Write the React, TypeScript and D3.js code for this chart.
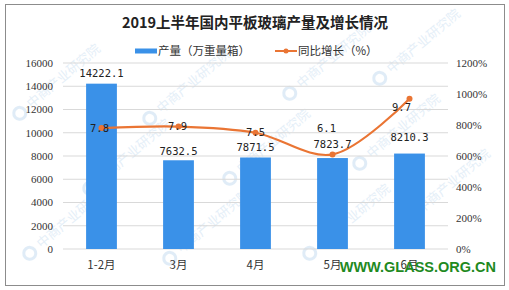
import React from "react";
import * as d3 from "d3";

const categories = ["1-2月", "3月", "4月", "5月", "6月"];
const production = [14222.1, 7632.5, 7871.5, 7823.7, 8210.3];
const growth = [7.8, 7.9, 7.5, 6.1, 9.7];
const leftTicks = [0, 2000, 4000, 6000, 8000, 10000, 12000, 14000, 16000];
const rightTicks = [0, 200, 400, 600, 800, 1000, 1200];

// label offsets (layout, not data)
const barLabelDy = [-7, -5, -6, -10, -13];
const lineLabelDx = [-2, -1, 0, -6, -8];
const lineLabelDy = [0, 0, 0, -26, 9];

const W = 509, H = 290;
const M = { left: 63, right: 448, top: 63, bottom: 249 };
const BLUE = "#3a91e8";
const ORANGE = "#ea7534";
const CJK = "'Noto Sans CJK SC', 'Noto Sans', sans-serif";

const watermarks = [
  [30, 110], [160, 115], [300, 90], [390, 75], [40, 250], [180, 255], [320, 250], [420, 215],
  [240, 175], [100, 185], [370, 160],
];

export default function App() {
  const x = d3.scaleBand().domain(categories).range([M.left, M.right]).paddingInner(0.6).paddingOuter(0.3);
  const yL = d3.scaleLinear().domain([0, 16000]).range([M.bottom, M.top]);
  const yR = d3.scaleLinear().domain([0, 1200]).range([M.bottom, M.top]);
  const cx = (c: string) => (x(c) as number) + x.bandwidth() / 2;
  const pts: [number, number][] = categories.map((c, i) => [cx(c), yR(growth[i] * 100)]);
  const line = d3.line().curve(d3.curveCatmullRom.alpha(0.5))(pts) as string;

  return (
    <svg width={W} height={H} style={{ position: "absolute", left: 0, top: 0, background: "#fff" }}>
      <defs>
        <clipPath id="frame"><rect x={6} y={5} width={498} height={280} /></clipPath>
      </defs>
      <rect x={5.5} y={4.5} width={499} height={281} fill="#fff" stroke="#8c8c8c" strokeWidth={1} />
      <g clipPath="url(#frame)">
        {watermarks.map(([wx, wy], i) => (
          <g key={"w" + i} transform={`translate(${wx},${wy}) rotate(-40)`} opacity={0.3}>
            <circle cx={-10} cy={-4} r={6} fill="none" stroke="#9cc3e6" strokeWidth={3} />
            <text x={2} y={0} fontFamily={CJK} fontSize={13} fill="#a9cbe9">中商产业研究院</text>
          </g>
        ))}
      </g>
      {leftTicks.map((t) => (
        <line key={"g" + t} x1={M.left} x2={M.right} y1={yL(t)} y2={yL(t)} stroke="#d9d9d9" strokeWidth={1} />
      ))}
      {categories.map((c, i) => (
        <rect key={"b" + i} x={x(c)} y={yL(production[i])} width={x.bandwidth()} height={M.bottom - yL(production[i])} fill={BLUE} />
      ))}
      <path d={line} fill="none" stroke={ORANGE} strokeWidth={2.2} />
      {pts.map(([px, py], i) => (
        <circle key={"p" + i} cx={px} cy={py} r={3} fill={ORANGE} />
      ))}
      {categories.map((c, i) => (
        <text key={"bl" + i} x={cx(c)} y={yL(production[i]) + barLabelDy[i]} textAnchor="middle" fontFamily="'DejaVu Sans Mono', monospace" fontSize={10.5} fill="#222">
          {production[i].toFixed(1)}
        </text>
      ))}
      {categories.map((c, i) => (
        <text key={"ll" + i} x={cx(c) + lineLabelDx[i]} y={yR(growth[i] * 100) + lineLabelDy[i]} dy="0.35em" textAnchor="middle" fontFamily="'DejaVu Sans Mono', monospace" fontSize={10.5} fill="#222">
          {growth[i].toFixed(1)}
        </text>
      ))}
      {leftTicks.map((t) => (
        <text key={"lt" + t} x={53} y={yL(t)} dy="0.35em" textAnchor="end" fontFamily="'Liberation Serif', serif" fontSize={11} fill="#333">
          {t}
        </text>
      ))}
      {rightTicks.map((t) => (
        <text key={"rt" + t} x={456} y={yR(t)} dy="0.35em" textAnchor="start" fontFamily="'Liberation Serif', serif" fontSize={11} fill="#333">
          {t + "%"}
        </text>
      ))}
      {categories.map((c) => (
        <text key={"c" + c} x={cx(c)} y={265} dy="0.35em" textAnchor="middle" fontFamily={CJK} fontSize={11.5} fill="#333">
          {c}
        </text>
      ))}
      <text x={255} y={23} dy="0.35em" textAnchor="middle" fontFamily={CJK} fontWeight="bold" fontSize={14.5} fill="#222">
        2019上半年国内平板玻璃产量及增长情况
      </text>
      <rect x={135} y={48.5} width={22} height={5} fill={BLUE} />
      <text x={158} y={51} dy="0.35em" fontFamily={CJK} fontSize={11.5} fill="#333">产量（万重量箱）</text>
      <line x1={275} x2={297} y1={51} y2={51} stroke={ORANGE} strokeWidth={2} />
      <circle cx={286} cy={51} r={2.5} fill={ORANGE} />
      <text x={298} y={51} dy="0.35em" fontFamily={CJK} fontSize={11.5} fill="#333">同比增长（%）</text>
      <text x={496} y={267} dy="0.35em" textAnchor="end" fontFamily="'Liberation Sans', Arial, sans-serif" fontWeight="bold" fontSize={14.5} fill="#1f8a1f">
        WWW.GLASS.ORG.CN
      </text>
    </svg>
  );
}
